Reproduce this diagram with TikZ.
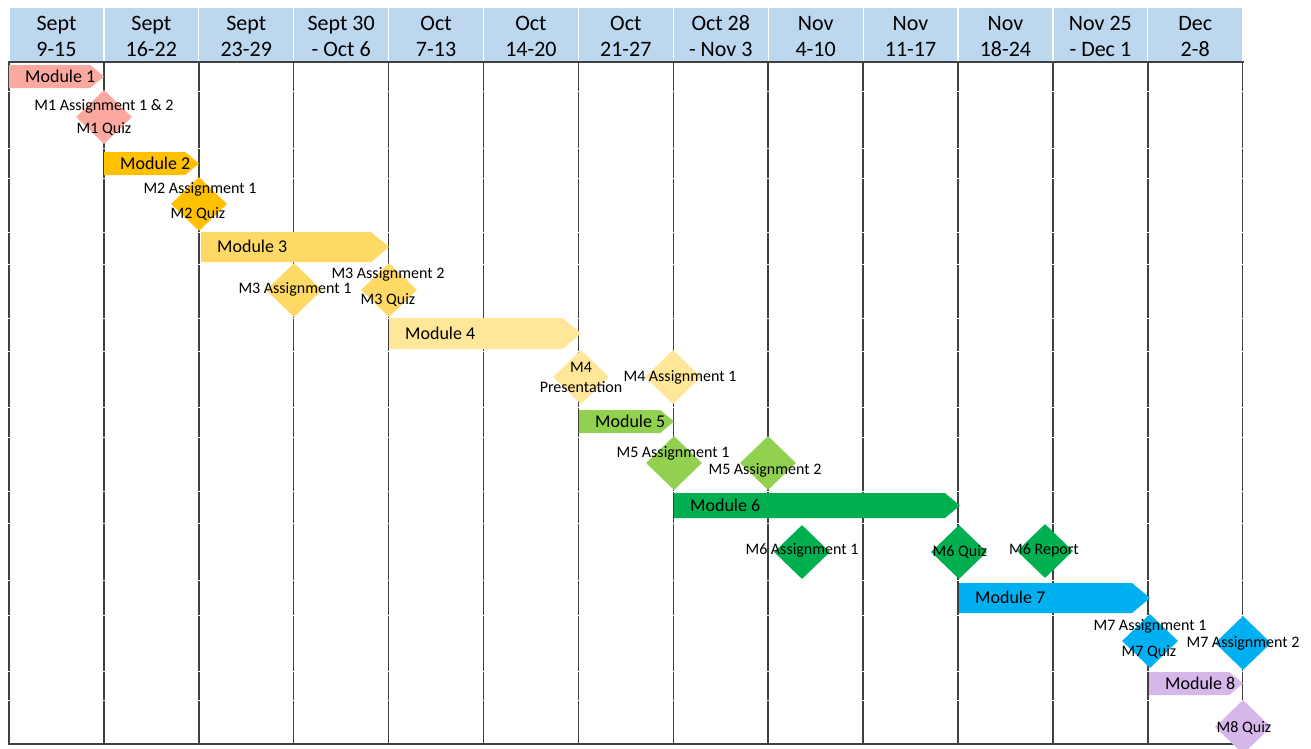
\documentclass[tikz,border=0pt]{standalone}
\usepackage{fontspec}
\setmainfont{Carlito}
\usetikzlibrary{shapes.geometric}
\definecolor{hdr}{HTML}{BDD7EE}
\definecolor{gridc}{HTML}{404040}
\definecolor{mA}{HTML}{FBA8A0}
\definecolor{mB}{HTML}{FFC000}
\definecolor{mC}{HTML}{FFD966}
\definecolor{mD}{HTML}{FFE699}
\definecolor{mE}{HTML}{92D050}
\definecolor{mF}{HTML}{00B050}
\definecolor{mG}{HTML}{00B0F0}
\definecolor{mH}{HTML}{D5B7EA}
\newcommand{\mybar}[7]{%
  \fill[#1] (#2,#4) -- ({#3-0.6*(#5-#4)},#4) -- (#3,{(#4+#5)/2}) -- ({#3-0.6*(#5-#4)},#5) -- (#2,#5) -- cycle;
  \node[modtext] (#6) at ({#2+16},{(#4+#5)/2}) {#7};}
\begin{document}
\begin{tikzpicture}[x=1pt,y=-1pt,
  gridline/.style={draw=gridc,line width=1.5pt},
  hdrtext/.style={font=\fontsize{22}{26}\selectfont,inner sep=0pt,text height=14pt,text depth=0pt,anchor=center},
  modtext/.style={font=\fontsize{18}{21}\selectfont,inner sep=0pt,text height=11.6pt,text depth=0pt,anchor=west},
  lbl/.style={font=\fontsize{16}{19}\selectfont,inner sep=0pt,text height=10.4pt,text depth=0pt,anchor=center},
  dia/.style={diamond,minimum width=56pt,minimum height=54pt,inner sep=0pt,draw=none}]
\useasboundingbox (0,0) rectangle (1311,748);
\fill[white] (0,0) rectangle (1311,748);
% header
\foreach \i/\ta/\tb in {0/Sept/9-15,1/Sept/16-22,2/Sept/23-29,3/Sept 30/- Oct 6,4/Oct/7-13,5/Oct/14-20,6/Oct/21-27,7/Oct 28/- Nov 3,8/Nov/4-10,9/Nov/11-17,10/Nov/18-24,11/Nov 25/- Dec 1,12/Dec/2-8}{
  \fill[hdr] ({9+94.9*\i+0.6},8) rectangle ({9+94.9*\i+94.3},62);
  \node[hdrtext] (ha\i) at ({9+94.9*\i+47.45},23.3) {\ta};
  \node[hdrtext] (hb\i) at ({9+94.9*\i+47.45},49.7) {\tb};
}
% grid
\foreach \i in {0,...,13}{\draw[gridline] ({9+94.9*\i},62) -- ({9+94.9*\i},744);}
\foreach \y in {91,148,178,232,264,318,351,407,437,491,523,580,615,671,700}{\draw[white,line width=0.9pt] (5,\y) -- (1250,\y);}
\draw[gridline] (8.25,62) -- (1244.45,62);
\draw[gridline] (8.25,744) -- (1244.45,744);
% module bars
\mybar{mA}{9}{104}{65}{88}{mod1}{Module 1}
\mybar{mB}{104}{199}{152}{175}{mod2}{Module 2}
\mybar{mC}{201}{389}{232}{262}{mod3}{Module 3}
\mybar{mD}{389}{581}{318}{349}{mod4}{Module 4}
\mybar{mE}{579}{674}{410}{433}{mod5}{Module 5}
\mybar{mF}{674}{960}{493}{518}{mod6}{Module 6}
\mybar{mG}{959}{1150}{583}{613}{mod7}{Module 7}
\mybar{mH}{1149}{1243}{672}{695}{mod8}{Module 8}
% milestones
\node[dia,fill=mA] (d1) at (104,117) {};
\node[dia,fill=mB] (d2) at (199,204) {};
\node[dia,fill=mC] (d3a) at (294,290) {};
\node[dia,fill=mC] (d3b) at (389,290) {};
\node[dia,fill=mD] (d4a) at (581,377) {};
\node[dia,fill=mD] (d4b) at (673,377) {};
\node[dia,fill=mE] (d5a) at (674,463) {};
\node[dia,fill=mE] (d5b) at (768,463) {};
\node[dia,fill=mF] (d6a) at (802,552) {};
\node[dia,fill=mF] (d6b) at (959,552) {};
\node[dia,fill=mF] (d6c) at (1045,551) {};
\node[dia,fill=mG] (d7a) at (1150,641) {};
\node[dia,fill=mG] (d7b) at (1243,643) {};
\node[dia,fill=mH] (d8) at (1243,727) {};
% labels
\node[lbl] (l1a) at (104,105.5) {M1 Assignment 1 \& 2};
\node[lbl] (l1b) at (104,128) {M1 Quiz};
\node[lbl] (l2a) at (200,188) {M2 Assignment 1};
\node[lbl] (l2b) at (198,213) {M2 Quiz};
\node[lbl] (l3a) at (295,288.5) {M3 Assignment 1};
\node[lbl] (l3b) at (388,273) {M3 Assignment 2};
\node[lbl] (l3c) at (388,299) {M3 Quiz};
\node[lbl] (l4a) at (581,367) {M4};
\node[lbl] (l4b) at (581,387.5) {Presentation};
\node[lbl] (l4c) at (680,376) {M4 Assignment 1};
\node[lbl] (l5a) at (673,452.5) {M5 Assignment 1};
\node[lbl] (l5b) at (765,469.5) {M5 Assignment 2};
\node[lbl] (l6a) at (802,549) {M6 Assignment 1};
\node[lbl] (l6b) at (960,551.5) {M6 Quiz};
\node[lbl] (l6c) at (1044,549) {M6 Report};
\node[lbl] (l7a) at (1150,625.5) {M7 Assignment 1};
\node[lbl] (l7b) at (1149,651.5) {M7 Quiz};
\node[lbl] (l7c) at (1243,642.5) {M7 Assignment 2};
\node[lbl] (l8) at (1244,727) {M8 Quiz};
\end{tikzpicture}
\end{document}
